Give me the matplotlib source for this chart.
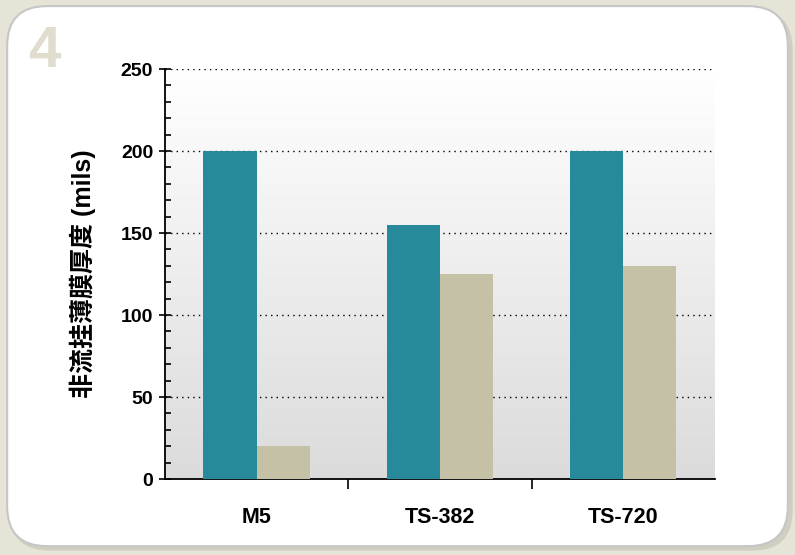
import numpy as np
import matplotlib
matplotlib.use('Agg')
import matplotlib.pyplot as plt
from matplotlib.patches import FancyBboxPatch
from matplotlib.ticker import MultipleLocator

plt.rcParams['font.family'] = ['Liberation Sans', 'Noto Sans CJK SC', 'DejaVu Sans']

# film thickness data
categories = ['M5', 'TS-382', 'TS-720']
series_a = [200, 155, 200]
series_b = [20, 125, 130]

teal = '#268a9b'
beige = '#c5c1a7'

fig = plt.figure(figsize=(7.95, 5.55), dpi=100)
fig.patch.set_facecolor('#e6e4d6')

# white card with a soft shadow
shadow = FancyBboxPatch((0.012, 0.008), 0.985, 0.975,
                        boxstyle='round,pad=0,rounding_size=0.05',
                        transform=fig.transFigure, facecolor='#d0cec0',
                        edgecolor='none', zorder=0, mutation_aspect=795/555)
card = FancyBboxPatch((0.009, 0.016), 0.982, 0.973,
                      boxstyle='round,pad=0,rounding_size=0.05',
                      transform=fig.transFigure, facecolor='white',
                      edgecolor='#c6c6c6', linewidth=1.5, zorder=1,
                      mutation_aspect=795/555)
fig.patches.extend([shadow, card])

fig.text(0.035, 0.88, '4', fontsize=42, fontweight='bold', color='#e0ddcf',
         family='Liberation Sans')

ax = fig.add_axes([0.2075, 0.1369, 0.6918, 0.7387])
ax.set_zorder(2)
ax.patch.set_alpha(0)

# vertical gradient background of the plot area
grad = np.linspace(1.0, 0.86, 256).reshape(-1, 1)
ax.imshow(np.dstack([grad, grad, grad]), extent=[-0.5, 2.5, 0, 250],
          aspect='auto', zorder=0, origin='upper')

x = np.arange(len(categories))
w = 0.29
ax.yaxis.grid(True, linestyle=(0, (1, 3)), color='black', linewidth=1, zorder=1)
ax.set_axisbelow(True)
ax.bar(x - w / 2, series_a, width=w, color=teal, zorder=3)
ax.bar(x + w / 2, series_b, width=w, color=beige, zorder=3)

ax.set_xlim(-0.5, 2.5)
ax.set_ylim(0, 250)
ax.yaxis.set_major_locator(MultipleLocator(50))
ax.yaxis.set_minor_locator(MultipleLocator(10))

ax.set_xticks([0.5, 1.5])
ax.set_xticklabels([])
ax.set_xticks(x, minor=True)
ax.set_xticklabels(categories, minor=True, fontsize=15.5, fontweight='bold')
ax.tick_params(axis='x', which='major', direction='out', length=7, width=1.2)
ax.tick_params(axis='x', which='minor', length=0, pad=20)
ax.tick_params(axis='y', which='major', direction='inout', length=9, width=1.2,
               labelsize=14, pad=4)
ax.tick_params(axis='y', which='minor', direction='in', length=4, width=1.2)
for lbl in ax.get_yticklabels():
    lbl.set_fontweight('bold')

for side in ['top', 'right']:
    ax.spines[side].set_visible(False)
ax.spines['left'].set_linewidth(1.3)
ax.spines['bottom'].set_linewidth(1.3)

ax.set_ylabel('非流挂薄膜厚度 (mils)', fontsize=18, fontweight='bold', labelpad=18)

fig.savefig('out.png', dpi=100, facecolor=fig.get_facecolor())
